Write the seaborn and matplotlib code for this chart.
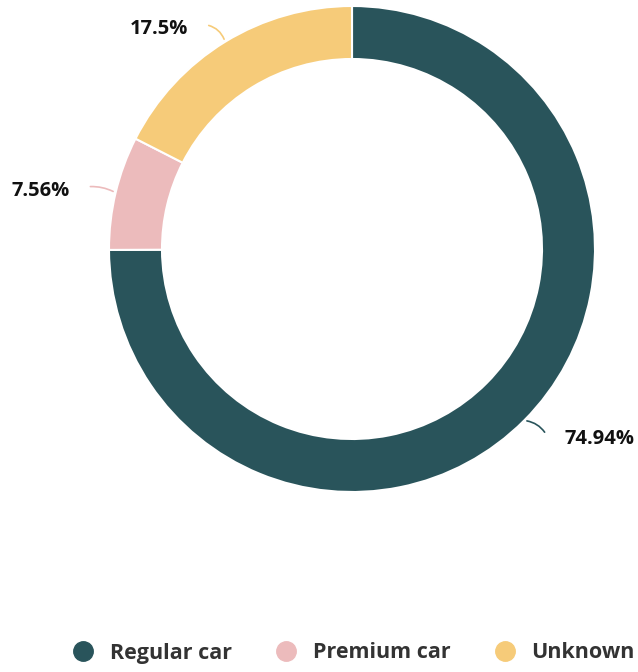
import matplotlib
matplotlib.use("Agg")
import numpy as np
import matplotlib.pyplot as plt
from matplotlib.lines import Line2D
import seaborn as sns

# data
categories = ["Regular car", "Premium car", "Unknown"]
shares = [74.94, 7.56, 17.5]
labels = ["74.94%", "7.56%", "17.5%"]
colors = ["#29545b", "#ecbbbc", "#f6cb79"]

sns.set_theme(style="white")
plt.rcParams['font.family'] = ['Open Sans', 'DejaVu Sans']

W, H = 638, 672
fig = plt.figure(figsize=(W / 100, H / 100), dpi=100)
ax = fig.add_axes([0, 0, 1, 1])

cx, cy, r = 352, H - 249, 243
wedges, _ = ax.pie(shares, colors=colors, startangle=90, counterclock=False,
                   center=(cx, cy), radius=r, frame=True,
                   wedgeprops=dict(width=53, edgecolor="white", linewidth=1.5))
ax.set_xlim(0, W)
ax.set_ylim(0, H)
ax.axis("off")

# leader line offsets (pixels) from the wedge edge
offsets = [(22, -14), (-28, 6), (-19, 17)]
bends = [0.25, 0.15, 0.3]
for w, lab, col, (dx, dy), b in zip(wedges, labels, colors, offsets, bends):
    ang = np.deg2rad((w.theta1 + w.theta2) / 2)
    x0, y0 = cx + r * np.cos(ang), cy + r * np.sin(ang)
    ha = "left" if dx > 0 else "right"
    ax.annotate("", xy=(x0, y0), xytext=(x0 + dx, y0 + dy),
                arrowprops=dict(arrowstyle="-", color=col, lw=1.2,
                                connectionstyle=f"arc3,rad={b if dx > 0 else -b}"))
    ax.text(x0 + dx + (18 if dx > 0 else -18), y0 + dy - 4, lab, ha=ha, va="center",
            fontsize=14.5, fontweight="bold", color="#111111")

handles = [Line2D([], [], marker="o", linestyle="", markersize=14,
                  markerfacecolor=c, markeredgecolor=c) for c in colors]
leg = fig.legend(handles, categories, loc="center", bbox_to_anchor=(0.546, 1 - 653 / H),
                 ncol=3, frameon=False, handletextpad=0.25, columnspacing=1.5,
                 prop=dict(family=['Open Sans', 'DejaVu Sans'], weight="bold", size=15.5))
for t in leg.get_texts():
    t.set_color("#333333")

fig.savefig("out.png", dpi=100)
